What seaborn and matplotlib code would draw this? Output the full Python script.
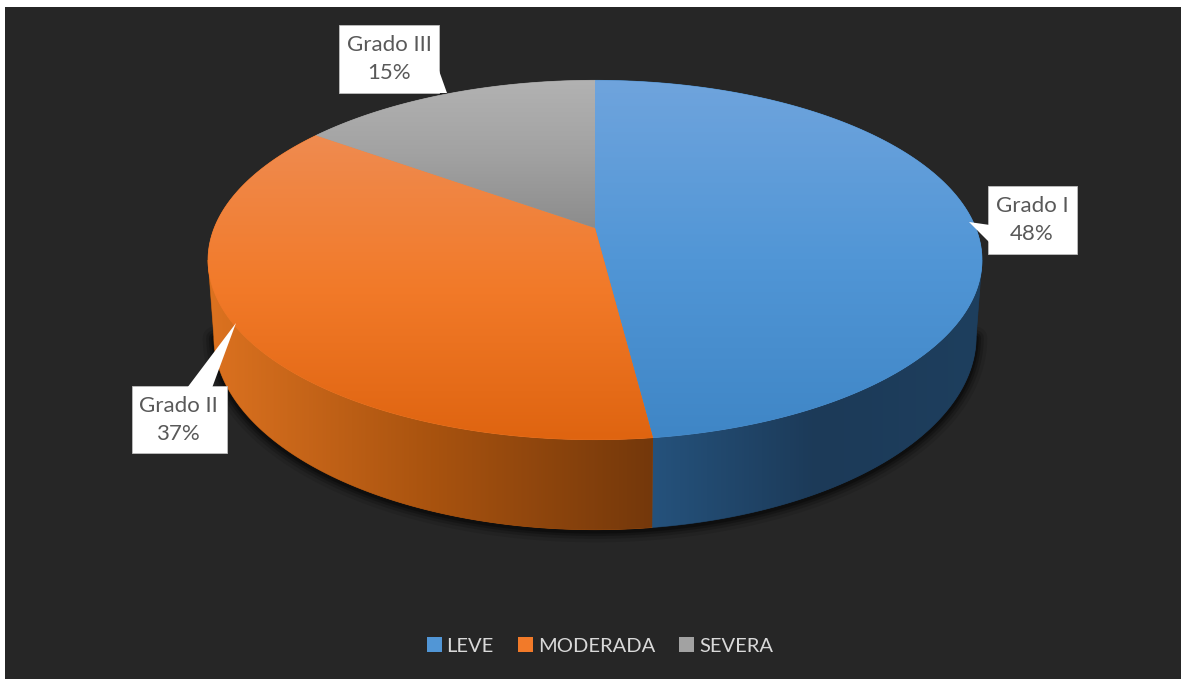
import numpy as np
import matplotlib
matplotlib.use("Agg")
import matplotlib.pyplot as plt
from matplotlib.patches import Polygon, Rectangle
import seaborn as sns

# Severity shares of the three grades
categories = ["LEVE", "MODERADA", "SEVERA"]
grades = ["Grado I", "Grado II", "Grado III"]
shares = [48, 37, 15]

base_colors = ["#5B9BD5", "#ED7D31", "#A5A5A5"]
top_ramps = [["#6FA4DD", "#5196D6", "#3F86C6"],
             ["#EF8B50", "#F27A29", "#DF6410"],
             ["#B2B2B2", "#A2A2A2", "#8C8C8C"]]
wall_ramps = [["#25527C", "#1C3A58", "#1E3F5E"],
              ["#DC7220", "#A9530F", "#74380B"],
              ["#666666", "#555555", "#555555"]]

sns.set_theme(style="dark", rc={"font.family": ["Lato", "DejaVu Sans"]})
sns.set_palette(base_colors)

W, H = 1181, 679
fig = plt.figure(figsize=(W / 100, H / 100), dpi=100, facecolor="white")
ax = fig.add_axes([0, 0, 1, 1])
ax.set_axis_off()
ax.add_patch(Rectangle((5, 7), W, H, facecolor="#262626", edgecolor="none", zorder=0))

# Perspective disc: hub on screen, horizontal and vertical radii, tilt, thickness
CX, CY, RX, RY, TILT, DEPTH, SHRINK = 595.0, 228.0, 380.8, 174.0, 0.178, 74.0, 0.985
# Rim angles where the disc silhouette is widest on screen
SIDE = np.arccos(-TILT)


def project(theta, lower=False):
    u, v = np.sin(theta), -np.cos(theta)
    d = 1 - TILT * v
    scale = SHRINK if lower else 1.0
    return CX + scale * RX * u / d, CY + RY * v / d + (DEPTH / d if lower else 0.0)


def shaded(points, ramp, horizontal, zorder):
    """Fill a polygon with a smooth colour ramp over a solid antialiased base."""
    pts = np.asarray(points)
    mid = ramp[1]
    ax.add_patch(Polygon(pts, closed=True, facecolor=mid, edgecolor=mid, lw=0.5, zorder=zorder - 0.1))
    outline = Polygon(pts, closed=True, transform=ax.transData, facecolor="none", edgecolor="none")
    ax.add_patch(outline)
    outline.set_zorder(zorder)
    grad = np.linspace(0, 1, 256)
    grad = grad[None, :] if horizontal else grad[:, None]
    x0, x1, y0, y1 = pts[:, 0].min(), pts[:, 0].max(), pts[:, 1].min(), pts[:, 1].max()
    im = ax.imshow(grad, extent=(x0, x1, y1, y0), cmap=sns.blend_palette(ramp, as_cmap=True),
                   aspect="auto", interpolation="bilinear", zorder=zorder)
    im.set_clip_path(outline)


fractions = np.cumsum([0] + shares) / sum(shares)
edges = 2 * np.pi * fractions

# Soft contact shadow under the front rim
rim = np.linspace(SIDE, 2 * np.pi - SIDE, 200)
rx, ry = project(rim, lower=True)
for lw, alpha in [(16, 0.10), (11, 0.16), (7, 0.22), (3.5, 0.30)]:
    ax.plot(rx, ry + 1.5, color="black", lw=lw, alpha=alpha, zorder=1, solid_capstyle="round")

# Outer wall of each slice, only the part facing the viewer
for i in range(3):
    start, stop = max(edges[i], SIDE), min(edges[i + 1], 2 * np.pi - SIDE)
    if stop <= start:
        continue
    t = np.linspace(start, stop, 160)
    tx, ty = project(t)
    bx, by = project(t, lower=True)
    shaded(np.r_[np.c_[tx, ty], np.c_[bx, by][::-1]], wall_ramps[i], True, 2)

# Top face
for i in range(3):
    t = np.linspace(edges[i], edges[i + 1], 240)
    x, y = project(t)
    shaded(np.r_[[[CX, CY]], np.c_[x, y]], top_ramps[i], False, 3)

# Callout boxes: (left, top, right, bottom), pointer triangle, text centre
callouts = [
    ((988, 186, 1077, 254), [(969, 222), (990, 225), (990, 243)], (1032, 220)),
    ((132, 386, 227, 453), [(236, 323), (187, 388), (212, 388)], (178, 420)),
    ((339, 25, 439, 93), [(447, 93), (437, 65), (437, 93)], (389, 59)),
]
for (l, t, r, b), tri, (tx, ty), grade, share in zip(*zip(*callouts), grades, shares):
    ax.add_patch(Rectangle((l, t), r - l, b - t, facecolor="white", edgecolor="#BFBFBF", lw=0.6, zorder=5))
    ax.add_patch(Polygon(tri, closed=True, facecolor="white", edgecolor="none", zorder=5.5))
    ax.text(tx, ty, f"{grade}\n{share}%", ha="center", va="center", color="#595959",
            fontsize=16, linespacing=1.47, zorder=6)

handles = [Rectangle((0, 0), 1, 1, facecolor=c, edgecolor="none") for c in ["#5196D6", "#F27A29", "#A2A2A2"]]
ax.legend(handles, categories, loc="center", bbox_to_anchor=(600 / W, 1 - 646 / H), ncol=3, frameon=False,
          fontsize=14.5, labelcolor="#D9D9D9", handlelength=0.74, handleheight=0.74, handletextpad=0.25,
          columnspacing=1.2, borderpad=0)

ax.set_xlim(0, W)
ax.set_ylim(H, 0)
fig.savefig("out.png", dpi=100, facecolor="white")
